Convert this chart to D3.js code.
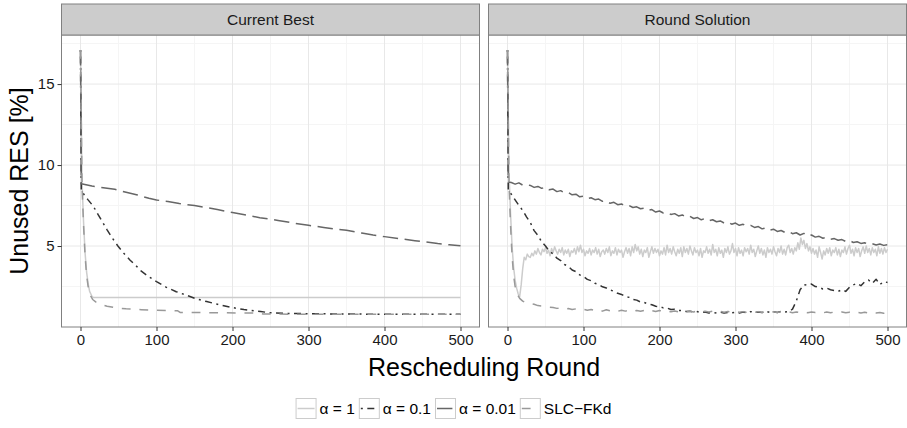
<!DOCTYPE html>
<html>
<head>
<meta charset="utf-8">
<script src="https://cdn.jsdelivr.net/npm/d3@7"></script>
<style>
body { margin: 0; background: #fff; }
svg { display: block; font-family: "Liberation Sans", Arial, sans-serif; }
</style>
</head>
<body>
<div id="canvas"></div>
<script>
// series + panel labels
const panelNames = ["Current Best", "Round Solution"];
const seriesNames = ["α = 1", "α = 0.1", "α = 0.01", "SLC−FKd"];
const xTicks = [0, 100, 200, 300, 400, 500];
const yTicks = [5, 10, 15];

// Current Best: [round, unused RES %]
const bestA1 = [[0,17.1],[2,9.0],[4,6.5],[6,4.6],[8,3.4],[10,2.7],[12,2.2],[15,1.9],[17,1.82],[500,1.82]];
const bestA01 = [[0,17.1],[1,8.45],[5,8.15],[10,7.85],[17,7.45],[23,6.95],[30,6.4],[35,6.0],[41,5.55],[50,4.95],[57,4.55],[65,4.14],[72,3.83],[80,3.45],[90,3.1],[100,2.8],[113,2.45],[126,2.18],[140,1.95],[153,1.73],[166,1.57],[179,1.42],[190,1.3],[201,1.19],[215,1.08],[225,1.02],[237,0.95],[250,0.88],[270,0.84],[300,0.82],[350,0.8],[400,0.79],[450,0.78],[500,0.78]];
const bestA001 = [[0,17.1],[1,8.85],[15,8.7],[30,8.6],[45,8.5],[60,8.32],[75,8.15],[90,7.95],[100,7.84],[115,7.75],[130,7.62],[150,7.5],[165,7.38],[180,7.25],[200,7.07],[220,6.9],[236,6.75],[260,6.58],[280,6.42],[300,6.28],[320,6.15],[335,6.05],[350,5.98],[370,5.8],[385,5.68],[400,5.58],[420,5.45],[440,5.33],[455,5.25],[470,5.15],[485,5.08],[500,5.02]];
const bestSlc = [[0,17.1],[2,8.8],[4,6.3],[6,4.4],[8,3.2],[10,2.5],[13,1.95],[16,1.7],[20,1.55],[26,1.4],[35,1.28],[48,1.17],[60,1.12],[80,1.07],[100,1.03],[128,1.0],[131,0.9],[180,0.88],[237,0.86],[240,0.8],[300,0.79],[400,0.78],[500,0.78]];

// Round Solution: first rounds as [round, value], then regular samples
const solRounds = d3.range(30, 501, 5);   // every 5 rounds
const solRoundsA1 = d3.range(30, 501, 2); // every 2 rounds (alpha = 1 is very noisy)
const solA1Head = [[0,17.1],[2,9.5],[4,7.0],[6,5.0],[8,3.7],[10,2.9],[12,2.4],[14,2.05],[16,1.87],[18,2.6],[20,3.6],[22,4.3],[24,4.15],[26,4.5],[28,4.35]];
const solA1 = [
  4.3, 4.55, 4.4, 4.7, 4.5, 4.85, 4.6, 4.45, 4.8, 4.65,
  4.9, 4.55, 4.75, 4.4, 4.85, 4.6, 4.95, 4.7, 4.5, 4.8,
  4.6, 4.9, 4.45, 4.75, 4.55, 4.8, 4.35, 4.7, 4.6, 4.85,
  4.5, 4.95, 4.65, 5.05, 4.6, 4.8, 4.4, 4.7, 4.55, 4.85,
  4.45, 4.75, 4.6, 4.9, 4.5, 4.8, 4.35, 4.65, 4.75, 4.5,
  4.85, 4.6, 4.95, 4.4, 4.7, 4.55, 4.9, 4.45, 4.8, 4.6,
  4.75, 4.3, 4.65, 4.9, 4.55, 4.85, 4.4, 4.95, 4.6, 5.1,
  4.7, 4.95, 4.5, 4.8, 4.35, 4.75, 4.6, 4.9, 4.3, 4.65,
  4.95, 4.55, 4.85, 4.6, 4.8, 4.4, 4.7, 4.5, 4.9, 4.45,
  5.05, 4.6, 4.85, 4.5, 4.95, 4.65, 4.4, 4.8, 4.55, 4.9,
  4.35, 4.95, 4.6, 4.85, 4.5, 5.0, 4.7, 4.45, 4.9, 4.6,
  4.75, 4.4, 4.85, 4.3, 4.7, 4.6, 4.95, 4.55, 4.8, 4.45,
  5.1, 4.6, 4.8, 4.4, 4.9, 4.55, 4.75, 4.3, 4.85, 4.6,
  4.95, 4.5, 4.7, 5.15, 4.6, 4.85, 4.4, 4.9, 4.55, 4.75,
  4.4, 4.9, 4.65, 4.85, 4.5, 5.05, 4.6, 4.8, 4.35, 4.7,
  5.0, 4.55, 4.85, 4.45, 4.75, 4.3, 4.9, 4.6, 4.8, 4.5,
  4.95, 4.65, 4.4, 4.85, 4.6, 5.0, 4.5, 4.8, 4.45, 4.9,
  5.05, 4.6, 4.85, 4.5, 4.9, 4.7, 5.2, 4.8, 5.5, 5.1,
  5.35, 4.85, 5.15, 4.7, 4.95, 4.55, 4.85, 4.5, 4.75, 4.3,
  4.95, 4.6, 4.2, 4.7, 4.45, 4.85, 4.55, 4.9, 4.4, 4.75,
  4.6, 4.9, 4.45, 4.8, 4.35, 4.75, 4.6, 4.95, 4.5, 4.85,
  5.05, 4.55, 4.8, 4.4, 4.9, 4.6, 4.85, 4.35, 4.7, 4.95,
  4.55, 5.0, 4.6, 4.85, 4.45, 4.9, 4.6, 4.8, 4.4, 4.95,
  4.55, 4.85, 4.5, 4.9, 4.6, 4.8];
const solA01Head = [[0,17.1],[1,8.45],[5,8.2],[10,7.85],[15,7.5],[20,7.2],[25,6.8]];
const solA01 = [
  6.45, 5.95, 5.66, 5.26, 5.0, 4.68, 4.52, 4.25, 4.1, 3.86,
  3.74, 3.52, 3.42, 3.22, 3.12, 2.94, 2.86, 2.7, 2.63, 2.48,
  2.41, 2.28, 2.21, 2.08, 2.01, 1.88, 1.83, 1.7, 1.66, 1.54,
  1.51, 1.42, 1.37, 1.28, 1.26, 1.18, 1.17, 1.08, 1.09, 1.01,
  1.02, 0.96, 0.97, 0.92, 0.95, 0.89, 0.92, 0.87, 0.9, 0.86,
  0.92, 0.87, 0.9, 0.88, 0.91, 0.87, 0.92, 0.88, 0.95, 0.9,
  0.93, 0.89, 0.96, 0.9, 0.94, 0.9, 0.96, 0.92, 0.95, 1.1,
  1.6, 2.3, 2.62, 2.58, 2.65, 2.5, 2.45, 2.35, 2.4, 2.3,
  2.25, 2.2, 2.3, 2.2, 2.45, 2.6, 2.7, 2.55, 2.8, 2.9,
  2.7, 2.95, 2.62, 2.8, 2.75];
const solA001Head = [[0,17.1],[1,8.95],[5,8.92],[10,8.82],[15,8.9],[20,8.76],[25,8.8]];
const solA001 = [
  8.74, 8.62, 8.68, 8.56, 8.64, 8.47, 8.52, 8.36, 8.42, 8.28,
  8.3, 8.16, 8.2, 8.04, 8.08, 7.94, 7.98, 7.86, 7.9, 7.76,
  7.8, 7.64, 7.7, 7.55, 7.6, 7.46, 7.5, 7.38, 7.42, 7.3,
  7.34, 7.2, 7.25, 7.1, 7.16, 7.04, 7.08, 6.95, 7.0, 6.86,
  6.92, 6.78, 6.84, 6.7, 6.76, 6.62, 6.7, 6.56, 6.62, 6.5,
  6.55, 6.42, 6.48, 6.35, 6.42, 6.28, 6.34, 6.22, 6.27, 6.15,
  6.2, 6.06, 6.12, 5.98, 6.04, 5.9, 5.96, 5.84, 5.9, 5.76,
  5.82, 5.68, 5.78, 5.62, 5.68, 5.55, 5.6, 5.48, 5.54, 5.42,
  5.46, 5.36, 5.4, 5.28, 5.34, 5.22, 5.26, 5.16, 5.2, 5.1,
  5.14, 5.06, 5.12, 5.04, 5.08];
const solSlcHead = [[0,17.1],[2,8.8],[4,6.3],[6,4.4],[8,3.2],[10,2.5],[13,2.0],[16,1.77],[20,1.6],[25,1.5]];
const solSlc = [
  1.45, 1.4, 1.32, 1.3, 1.25, 1.22, 1.2, 1.15, 1.18, 1.12,
  1.14, 1.08, 1.12, 1.06, 1.1, 1.04, 1.08, 1.02, 1.07, 0.98,
  1.06, 1.0, 1.05, 0.97, 1.04, 0.98, 1.03, 0.96, 1.02, 0.97,
  1.03, 0.95, 1.01, 0.96, 1.02, 0.95, 1.0, 0.94, 0.99, 0.93,
  1.0, 0.94, 0.98, 0.93, 0.99, 0.92, 0.97, 0.93, 0.98, 0.92,
  0.97, 0.91, 0.96, 0.92, 0.97, 0.91, 0.95, 0.9, 0.96, 0.91,
  0.95, 0.9, 0.96, 0.9, 0.94, 0.89, 0.95, 0.9, 0.94, 0.88,
  0.93, 0.89, 0.94, 0.88, 0.93, 0.89, 0.92, 0.87, 0.93, 0.88,
  0.92, 0.87, 0.93, 0.88, 0.91, 0.86, 0.92, 0.87, 0.91, 0.86,
  0.92, 0.87, 0.9, 0.85, 0.88];

const withRounds = (head, body, rounds) => head.concat(body.map((v, i) => [rounds[i], v]));

const panelData = [
  [bestA1, bestA01, bestA001, bestSlc],
  [withRounds(solA1Head, solA1, solRoundsA1), withRounds(solA01Head, solA01, solRounds),
   withRounds(solA001Head, solA001, solRounds), withRounds(solSlcHead, solSlc, solRounds)]
];

const colors = ["#cccccc", "#333333", "#666666", "#999999"];
const dashes = [null, "2,4.5,7,4.5", "15.4,6.6", "8.8,8.8"];

const width = 907, height = 428;
const panelW = 418;
const panelX = [61.5, 488.5];
const plotTop = 35, plotBottom = 327, stripTop = 4;

const svg = d3.select("#canvas").append("svg")
  .attr("width", width).attr("height", height);

const y = d3.scaleLinear().domain([0, 18.03]).range([plotBottom, plotTop]);

panelNames.forEach((name, p) => {
  const x = d3.scaleLinear().domain([-25, 525]).range([panelX[p], panelX[p] + panelW]);
  const g = svg.append("g");

  // grid
  g.selectAll(".gx-minor").data([50, 150, 250, 350, 450]).enter().append("line")
    .attr("x1", d => x(d)).attr("x2", d => x(d)).attr("y1", plotTop).attr("y2", plotBottom)
    .attr("stroke", "#f5f5f5").attr("stroke-width", 1);
  g.selectAll(".gy-minor").data([2.5, 7.5, 12.5, 17.5]).enter().append("line")
    .attr("y1", d => y(d)).attr("y2", d => y(d)).attr("x1", panelX[p]).attr("x2", panelX[p] + panelW)
    .attr("stroke", "#f5f5f5").attr("stroke-width", 1);
  g.selectAll(".gx").data(xTicks).enter().append("line")
    .attr("x1", d => x(d)).attr("x2", d => x(d)).attr("y1", plotTop).attr("y2", plotBottom)
    .attr("stroke", "#e8e8e8").attr("stroke-width", 1);
  g.selectAll(".gy").data(yTicks).enter().append("line")
    .attr("y1", d => y(d)).attr("y2", d => y(d)).attr("x1", panelX[p]).attr("x2", panelX[p] + panelW)
    .attr("stroke", "#e8e8e8").attr("stroke-width", 1);

  // lines
  const line = d3.line().x(d => x(d[0])).y(d => y(d[1]));
  panelData[p].forEach((s, i) => {
    g.append("path").datum(s)
      .attr("d", line)
      .attr("fill", "none")
      .attr("stroke", colors[i])
      .attr("stroke-width", 1.5)
      .attr("stroke-linejoin", "round")
      .attr("stroke-dasharray", dashes[i]);
  });

  // panel border
  g.append("rect")
    .attr("x", panelX[p]).attr("y", plotTop).attr("width", panelW).attr("height", plotBottom - plotTop)
    .attr("fill", "none").attr("stroke", "#808080").attr("stroke-width", 1);

  // strip
  g.append("rect")
    .attr("x", panelX[p]).attr("y", stripTop).attr("width", panelW).attr("height", plotTop - stripTop)
    .attr("fill", "#cccccc").attr("stroke", "#808080").attr("stroke-width", 1);
  g.append("text")
    .attr("x", panelX[p] + panelW / 2).attr("y", (stripTop + plotTop) / 2)
    .attr("dy", "0.35em").attr("text-anchor", "middle")
    .attr("font-size", 15.5).attr("fill", "#1a1a1a")
    .text(name);

  // x axis
  const ax = g.append("g")
    .attr("transform", `translate(0,${plotBottom})`)
    .call(d3.axisBottom(x).tickValues(xTicks).tickSize(4).tickPadding(3));
  ax.select(".domain").remove();
  ax.selectAll("line").attr("stroke", "#333");
  ax.selectAll("text").attr("font-size", 15).attr("fill", "#1a1a1a");
  ax.attr("font-family", null).attr("font-size", null);

  if (p === 0) {
    const ay = g.append("g")
      .attr("transform", `translate(${panelX[0]},0)`)
      .call(d3.axisLeft(y).tickValues(yTicks).tickSize(4).tickPadding(3));
    ay.select(".domain").remove();
    ay.selectAll("line").attr("stroke", "#333");
    ay.selectAll("text").attr("font-size", 15).attr("fill", "#1a1a1a");
    ay.attr("font-family", null).attr("font-size", null);
  }
});

// titles
svg.append("text")
  .attr("x", (panelX[0] + panelX[1] + panelW) / 2).attr("y", 376)
  .attr("text-anchor", "middle").attr("font-size", 25).attr("fill", "#000")
  .text("Rescheduling Round");
svg.append("text")
  .attr("transform", `translate(27.5,${(plotTop + plotBottom) / 2}) rotate(-90)`)
  .attr("text-anchor", "middle").attr("font-size", 25).attr("fill", "#000")
  .text("Unused RES [%]");

// legend
const keySize = 20, legY = 398, keyGap = 4, itemGap = 4;
const leg = svg.append("g");
let cx = 0;
seriesNames.forEach((name, i) => {
  const item = leg.append("g").attr("transform", `translate(${cx},0)`);
  item.append("rect")
    .attr("x", 0.5).attr("y", legY + 0.5).attr("width", keySize).attr("height", keySize)
    .attr("fill", "#fff").attr("stroke", "#cccccc").attr("stroke-width", 1);
  item.append("line")
    .attr("x1", 2).attr("x2", keySize - 1).attr("y1", legY + keySize / 2 + 0.5).attr("y2", legY + keySize / 2 + 0.5)
    .attr("stroke", colors[i]).attr("stroke-width", 1.5).attr("stroke-dasharray", dashes[i]);
  const t = item.append("text")
    .attr("x", keySize + keyGap).attr("y", legY + keySize / 2 + 0.5).attr("dy", "0.35em")
    .attr("font-size", 15.5).attr("fill", "#000").text(name);
  cx += keySize + keyGap + t.node().getComputedTextLength() + itemGap;
});
leg.attr("transform", `translate(${(width - (cx - itemGap)) / 2},0)`);
</script>
</body>
</html>
